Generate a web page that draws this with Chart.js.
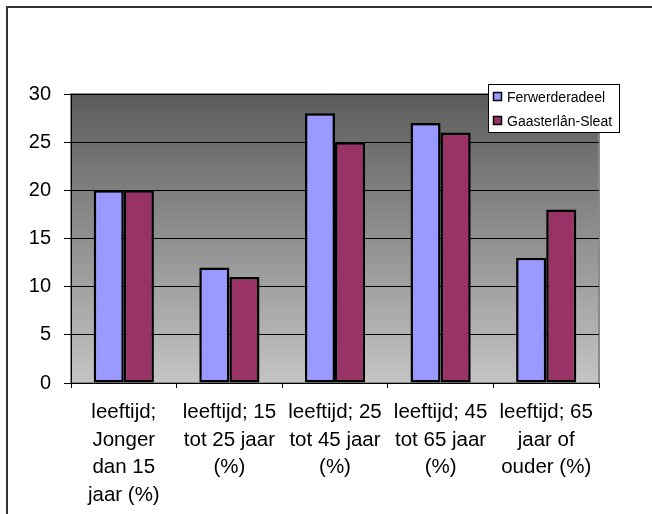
<!DOCTYPE html>
<html>
<head>
<meta charset="utf-8">
<script src="https://cdn.jsdelivr.net/npm/chart.js@4"></script>
<style>
  body { margin: 0; background: #fff; }
  canvas { display: block; }
</style>
</head>
<body>
<canvas id="chart" width="652" height="514"></canvas>
<script>
const categories = [
  ['leeftijd;', 'Jonger', 'dan 15', 'jaar (%)'],
  ['leeftijd; 15', 'tot 25 jaar', '(%)'],
  ['leeftijd; 25', 'tot 45 jaar', '(%)'],
  ['leeftijd; 45', 'tot 65 jaar', '(%)'],
  ['leeftijd; 65', 'jaar of', 'ouder (%)']
];
const ferwerderadeel = [20, 12, 28, 27, 13];
const gaasterlanSleat = [20, 11, 25, 26, 18];
const seriesNames = ['Ferwerderadeel', 'Gaasterlân-Sleat'];

const FONT = 'Arial, "Liberation Sans", sans-serif';

// gray gradient behind the plot, plus the outer frame
const backdrop = {
  id: 'backdrop',
  beforeDraw(chart) {
    const { ctx, chartArea: a } = chart;
    const g = ctx.createLinearGradient(0, a.top, 0, a.bottom);
    g.addColorStop(0, '#5c5c5c');
    g.addColorStop(1, '#c4c4c4');
    ctx.save();
    ctx.fillStyle = g;
    ctx.fillRect(a.left, a.top, a.right - a.left, a.bottom - a.top);
    ctx.strokeStyle = '#8a8a8a';
    ctx.lineWidth = 2;
    ctx.strokeRect(a.left, a.top, a.right - a.left, a.bottom - a.top);
    ctx.restore();
  },
  afterDraw(chart) {
    const ctx = chart.ctx;
    ctx.save();
    ctx.strokeStyle = '#333';
    ctx.lineWidth = 2;
    ctx.beginPath();
    ctx.moveTo(7, chart.height);
    ctx.lineTo(7, 7);
    ctx.lineTo(chart.width, 7);
    ctx.stroke();
    ctx.restore();
  }
};

// boxed legend that sits over the top right corner of the plot
const boxLegend = {
  id: 'boxLegend',
  afterDraw(chart) {
    const ctx = chart.ctx;
    const x = 488, y = 84, w = 131, h = 48;
    ctx.save();
    ctx.fillStyle = '#fff';
    ctx.fillRect(x, y, w, h);
    ctx.strokeStyle = '#000';
    ctx.lineWidth = 1;
    ctx.strokeRect(x + 0.5, y + 0.5, w, h);
    ctx.font = '14px ' + FONT;
    ctx.textBaseline = 'middle';
    chart.data.datasets.forEach((ds, i) => {
      const cy = y + 13 + i * 24;
      ctx.fillStyle = ds.backgroundColor;
      ctx.fillRect(494, cy - 4, 7, 7);
      ctx.strokeStyle = '#000';
      ctx.lineWidth = 1.5;
      ctx.strokeRect(493.5, cy - 4.5, 8, 8);
      ctx.fillStyle = '#000';
      ctx.fillText(ds.label, 507, cy + 1);
    });
    ctx.restore();
  }
};

new Chart(document.getElementById('chart'), {
  type: 'bar',
  data: {
    labels: categories,
    datasets: [
      {
        label: seriesNames[0],
        data: ferwerderadeel,
        backgroundColor: '#9999ff',
        borderColor: '#000',
        borderWidth: 2.5,
        borderSkipped: false
      },
      {
        label: seriesNames[1],
        data: gaasterlanSleat,
        backgroundColor: '#993366',
        borderColor: '#000',
        borderWidth: 2.5,
        borderSkipped: false
      }
    ]
  },
  options: {
    responsive: false,
    animation: false,
    layout: { padding: { top: 94, right: 53, bottom: 0, left: 0 } },
    datasets: { bar: { categoryPercentage: 0.57, barPercentage: 1 } },
    plugins: {
      legend: { display: false },
      tooltip: { enabled: false }
    },
    scales: {
      x: {
        afterFit(s) { s.height = 131; },
        grid: { drawOnChartArea: false, color: '#000', tickLength: 5 },
        border: { color: '#000', width: 1 },
        ticks: {
          color: '#000',
          padding: 11,
          maxRotation: 0,
          autoSkip: false,
          font: { family: FONT, size: 20.5, lineHeight: 1.34 }
        }
      },
      y: {
        min: 0,
        max: 30,
        afterFit(s) { s.width = 71; },
        grid: { color: '#000', tickLength: 7 },
        border: { color: '#000', width: 1 },
        ticks: {
          stepSize: 5,
          color: '#000',
          padding: 13,
          font: { family: FONT, size: 20 }
        }
      }
    }
  },
  plugins: [backdrop, boxLegend]
});
</script>
</body>
</html>
